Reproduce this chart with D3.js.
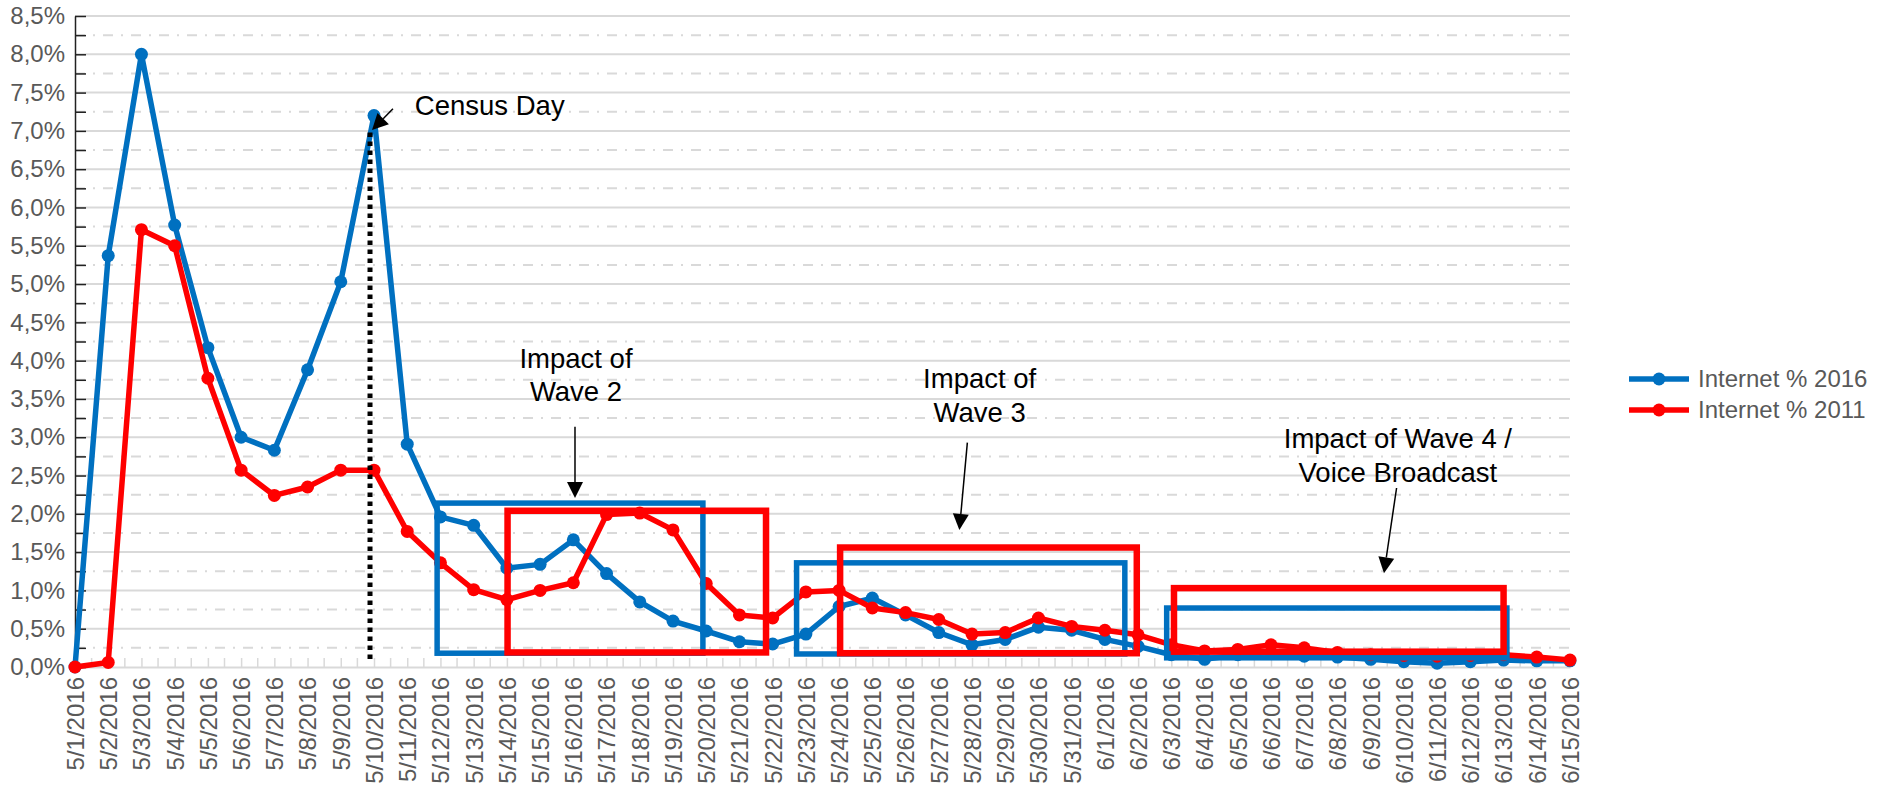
<!DOCTYPE html>
<html>
<head>
<meta charset="utf-8">
<script src="https://cdn.jsdelivr.net/npm/d3@7"></script>
<style>
  html, body { margin: 0; padding: 0; background: #fff; }
  svg { display: block; font-family: "Liberation Sans", Arial, sans-serif; }
</style>
</head>
<body>
<svg id="chart" width="1890" height="787"></svg>
<script>
// Daily share of returns completed online, census period
const dates = [
  "5/1/2016","5/2/2016","5/3/2016","5/4/2016","5/5/2016","5/6/2016","5/7/2016","5/8/2016",
  "5/9/2016","5/10/2016","5/11/2016","5/12/2016","5/13/2016","5/14/2016","5/15/2016","5/16/2016",
  "5/17/2016","5/18/2016","5/19/2016","5/20/2016","5/21/2016","5/22/2016","5/23/2016","5/24/2016",
  "5/25/2016","5/26/2016","5/27/2016","5/28/2016","5/29/2016","5/30/2016","5/31/2016","6/1/2016",
  "6/2/2016","6/3/2016","6/4/2016","6/5/2016","6/6/2016","6/7/2016","6/8/2016","6/9/2016",
  "6/10/2016","6/11/2016","6/12/2016","6/13/2016","6/14/2016","6/15/2016"
];

const internet2016 = [
  0.00, 5.37, 8.00, 5.77, 4.17, 3.00, 2.83, 3.88, 5.03, 7.20, 2.91, 1.96, 1.85, 1.29, 1.34, 1.66,
  1.22, 0.85, 0.60, 0.47, 0.33, 0.30, 0.43, 0.79, 0.90, 0.68, 0.45, 0.29, 0.36, 0.52, 0.48, 0.36,
  0.27, 0.16, 0.10, 0.16, 0.19, 0.14, 0.13, 0.10, 0.07, 0.05, 0.07, 0.09, 0.08, 0.08
];

const internet2011 = [
  0.00, 0.06, 5.71, 5.50, 3.77, 2.57, 2.24, 2.35, 2.57, 2.57, 1.77, 1.36, 1.01, 0.88, 1.00, 1.10,
  1.99, 2.01, 1.79, 1.09, 0.68, 0.64, 0.98, 1.00, 0.77, 0.71, 0.62, 0.43, 0.45, 0.64, 0.53, 0.48,
  0.42, 0.29, 0.21, 0.23, 0.29, 0.25, 0.19, 0.16, 0.15, 0.14, 0.15, 0.16, 0.13, 0.09
];

const seriesNames = ["Internet % 2016", "Internet % 2011"];
const seriesColors = ["#0070C0", "#FF0000"];

const yMajorTicks = d3.range(0, 8.5001, 0.5);
const yMinorTicks = d3.range(0.25, 8.5, 0.5);

// Wave highlight rectangles: [start day index, end day index, low %, high %]
const waveBoxes2016 = [
  [10.9, 18.9, 0.18, 2.14],
  [21.72, 31.6, 0.17, 1.36],
  [32.86, 43.1, 0.12, 0.77]
];
const waveBoxes2011 = [
  [13.02, 20.8, 0.19, 2.04],
  [23.03, 31.96, 0.18, 1.56],
  [33.08, 43.0, 0.20, 1.03]
];

// Callouts: text lines, anchor (day index, %), arrow from/to (day index, %)
const callouts = [
  { lines: ["Census Day"], at: [10.23, 7.21], anchor: "start", from: [9.57, 7.29], to: [8.94, 7.01] },
  { lines: ["Impact of", "Wave 2"], at: [15.08, 3.904], anchor: "middle", from: [15.05, 3.137], to: [15.05, 2.207] },
  { lines: ["Impact of", "Wave 3"], at: [27.23, 3.639], anchor: "middle", from: [26.86, 2.929], to: [26.62, 1.789] },
  { lines: ["Impact of Wave 4 /", "Voice Broadcast"], at: [39.82, 2.856], anchor: "middle", from: [39.78, 2.337], to: [39.4, 1.223] }
];

// Census Day marker line: day index, from %, to %
const censusLine = [8.88, 6.98, 0.09];

const W = 1890, H = 787;
const plotLeft = 75, plotRight = 1570, plotTop = 16, plotBottom = 667;
const tickFont = "24px";

const svg = d3.select("#chart");
svg.append("rect").attr("width", W).attr("height", H).attr("fill", "#fff");

const x = d3.scalePoint().domain(dates).range([plotLeft, plotRight]);
const xi = d3.scaleLinear().domain([0, dates.length - 1]).range([plotLeft, plotRight]);
const y = d3.scaleLinear().domain([0, 8.5]).range([plotBottom, plotTop]);

const locale = d3.formatLocale({ decimal: ",", thousands: ".", grouping: [3], currency: ["", ""] });
const pct = locale.format(".1f");

// Gridlines
const grid = svg.append("g");
grid.selectAll("line.minor").data(yMinorTicks).join("line")
  .attr("class", "minor")
  .attr("x1", plotLeft).attr("x2", plotRight)
  .attr("y1", d => y(d)).attr("y2", d => y(d))
  .attr("stroke", "#d9d9d9").attr("stroke-width", 2)
  .attr("stroke-dasharray", "10,8,2,8");
grid.selectAll("line.major").data(yMajorTicks.filter(d => d > 0)).join("line")
  .attr("class", "major")
  .attr("x1", plotLeft).attr("x2", plotRight)
  .attr("y1", d => y(d)).attr("y2", d => y(d))
  .attr("stroke", "#d9d9d9").attr("stroke-width", 2);

// X axis
const xAxis = svg.append("g").attr("transform", `translate(0,${plotBottom})`)
  .call(d3.axisBottom(x).tickSizeInner(-9).tickSizeOuter(0).tickPadding(10));
xAxis.select(".domain").attr("stroke", "#d9d9d9").attr("stroke-width", 2);
xAxis.selectAll(".tick line").attr("stroke", "#d9d9d9").attr("stroke-width", 1.5);
xAxis.selectAll(".tick text")
  .attr("transform", "rotate(-90)")
  .attr("x", -10).attr("y", 0).attr("dy", "0.35em")
  .attr("text-anchor", "end")
  .attr("fill", "#595959")
  .style("font-size", tickFont)
  .style("font-family", "'Liberation Sans', Arial, sans-serif");
// half-step ticks between dates
svg.append("g").selectAll("line").data(d3.range(0.5, dates.length - 1, 1)).join("line")
  .attr("x1", d => xi(d)).attr("x2", d => xi(d))
  .attr("y1", plotBottom).attr("y2", plotBottom - 9)
  .attr("stroke", "#d9d9d9").attr("stroke-width", 1.5);

// Y axis
const yAxis = svg.append("g").attr("transform", `translate(${plotLeft},0)`)
  .call(d3.axisLeft(y).tickValues(yMajorTicks).tickFormat(d => pct(d) + "%")
    .tickSizeInner(-11).tickSizeOuter(0).tickPadding(10));
yAxis.select(".domain").attr("stroke", "#222").attr("stroke-width", 1.5);
yAxis.selectAll(".tick line").attr("stroke", "#222").attr("stroke-width", 1.5);
yAxis.selectAll(".tick text")
  .attr("fill", "#595959")
  .style("font-size", tickFont)
  .style("font-family", "'Liberation Sans', Arial, sans-serif");
const yMinorAxis = svg.append("g").attr("transform", `translate(${plotLeft},0)`)
  .call(d3.axisLeft(y).tickValues(yMinorTicks).tickFormat("").tickSizeInner(-11).tickSizeOuter(0));
yMinorAxis.select(".domain").remove();
yMinorAxis.selectAll(".tick line").attr("stroke", "#222").attr("stroke-width", 1.5);

// Series
const line = d3.line().x((d, i) => x(dates[i])).y(d => y(d));
[internet2016, internet2011].forEach((vals, s) => {
  const g = svg.append("g");
  g.append("path").datum(vals)
    .attr("d", line)
    .attr("fill", "none")
    .attr("stroke", seriesColors[s])
    .attr("stroke-width", 5.5)
    .attr("stroke-linejoin", "round");
  g.selectAll("circle").data(vals).join("circle")
    .attr("cx", (d, i) => x(dates[i]))
    .attr("cy", d => y(d))
    .attr("r", 6.5)
    .attr("fill", seriesColors[s]);
});

// Census Day dotted marker
svg.append("line")
  .attr("x1", xi(censusLine[0])).attr("x2", xi(censusLine[0]))
  .attr("y1", y(censusLine[1])).attr("y2", y(censusLine[2]))
  .attr("stroke", "#000").attr("stroke-width", 5)
  .attr("stroke-dasharray", "4.5,4.5");

// Wave rectangles
function drawBoxes(boxes, color, width) {
  svg.append("g").selectAll("rect").data(boxes).join("rect")
    .attr("x", d => xi(d[0]))
    .attr("y", d => y(d[3]))
    .attr("width", d => xi(d[1]) - xi(d[0]))
    .attr("height", d => y(d[2]) - y(d[3]))
    .attr("fill", "none")
    .attr("stroke", color)
    .attr("stroke-width", width);
}
[0, 1, 2].forEach(i => {
  drawBoxes([waveBoxes2016[i]], seriesColors[0], 5.5);
  drawBoxes([waveBoxes2011[i]], seriesColors[1], 6.5);
});

// Callouts
callouts.forEach(c => {
  const t = svg.append("text")
    .attr("x", xi(c.at[0])).attr("y", y(c.at[1]))
    .attr("text-anchor", c.anchor)
    .attr("fill", "#000")
    .style("font-size", "27.5px");
  c.lines.forEach((ln, k) => {
    t.append("tspan").attr("x", xi(c.at[0])).attr("dy", k === 0 ? 0 : 33.5).text(ln);
  });
  const x1 = xi(c.from[0]), y1 = y(c.from[1]), x2 = xi(c.to[0]), y2 = y(c.to[1]);
  const ang = Math.atan2(y2 - y1, x2 - x1);
  const hl = 16, hw = 8;
  const bx = x2 - hl * Math.cos(ang), by = y2 - hl * Math.sin(ang);
  svg.append("line")
    .attr("x1", x1).attr("y1", y1).attr("x2", bx).attr("y2", by)
    .attr("stroke", "#000").attr("stroke-width", 1.5);
  svg.append("path")
    .attr("d", `M${x2},${y2}L${bx + hw * Math.sin(ang)},${by - hw * Math.cos(ang)}L${bx - hw * Math.sin(ang)},${by + hw * Math.cos(ang)}Z`)
    .attr("fill", "#000");
});

// Legend
const legend = svg.append("g").attr("transform", "translate(1629,379)");
seriesNames.forEach((name, i) => {
  const g = legend.append("g").attr("transform", `translate(0,${i * 31})`);
  g.append("line").attr("x1", 0).attr("x2", 60).attr("y1", 0).attr("y2", 0)
    .attr("stroke", seriesColors[i]).attr("stroke-width", 5.5);
  g.append("circle").attr("cx", 30).attr("cy", 0).attr("r", 6.5).attr("fill", seriesColors[i]);
  g.append("text").attr("x", 69).attr("y", 0).attr("dy", "0.35em")
    .attr("fill", "#595959").style("font-size", tickFont).text(name);
});
</script>
</body>
</html>
